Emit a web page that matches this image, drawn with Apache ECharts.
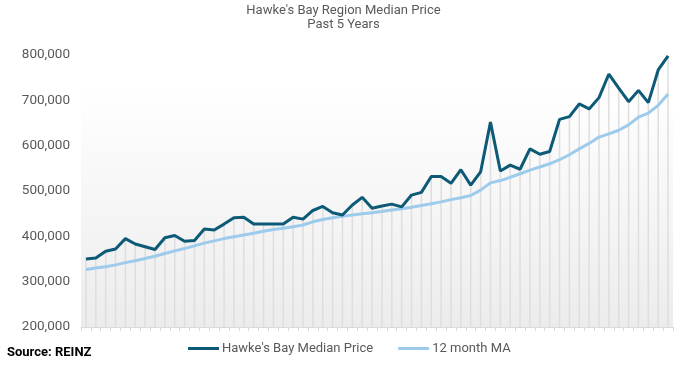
<!DOCTYPE html>
<html><head><meta charset="utf-8">
<script src="https://cdn.jsdelivr.net/npm/echarts@6/dist/echarts.min.js"></script>
<style>html,body{margin:0;padding:0;background:#fff}#c{width:687px;height:368px}</style>
</head><body><div id="c"></div>
<script>
// 60 monthly observations (dates not shown on the chart)
const categories = [];
for (let i = 1; i <= 60; i++) categories.push('M' + i);

const medianPrice = [350000,352000,367000,372000,395000,383000,377000,371000,397000,402000,
  389000,391000,416000,414000,427000,441000,442000,427000,427000,427000,
  427000,442000,438000,457000,466000,452000,447000,469000,486000,462000,
  467000,471000,465000,491000,497000,532000,532000,517000,547000,513000,
  542000,652000,544000,557000,548000,593000,581000,587000,658000,664000,
  692000,681000,706000,758000,727000,697000,722000,695000,767000,798000];

const movingAvg = [327000,330000,333000,337000,342000,346000,351000,356000,362000,368000,
  373000,379000,385000,390000,395000,399000,403000,407000,411000,415000,
  418000,421000,425000,432000,437000,441000,444000,447000,450000,452000,
  455000,458000,461000,464000,468000,472000,476000,481000,485000,490000,
  502000,518000,523000,530000,538000,546000,553000,560000,569000,580000,
  593000,605000,619000,626000,634000,646000,663000,672000,689000,714000];

const yTicks = [200000,300000,400000,500000,600000,700000,800000];
const seriesNames = ["Hawke's Bay Median Price", "12 month MA"];

const font = 'Roboto, "Liberation Sans", sans-serif';
const chart = echarts.init(document.getElementById('c'), null, {renderer:'canvas'});
chart.setOption({
  animation: false,
  backgroundColor: '#fff',
  title: {
    text: "Hawke's Bay Region Median Price\nPast 5 Years",
    left: 'center', top: 4, padding: 0,
    textStyle: {fontFamily: font, fontSize: 13, fontWeight: 'normal', color: '#595959', lineHeight: 14}
  },
  graphic: [{
    type: 'text', left: 7, top: 346,
    style: {text: 'Source: REINZ', font: 'bold 13px ' + font, fill: '#000'}
  }],
  legend: {
    data: seriesNames,
    left: 188, top: 342, padding: 0,
    itemWidth: 31, itemHeight: 3, itemGap: 25,
    icon: 'rect',
    textStyle: {fontFamily: font, fontSize: 13, color: '#595959', padding: [0,0,0,-2]}
  },
  grid: {
    left: 81, right: 14, top: 55, bottom: 41,
    show: true, borderWidth: 0,
    backgroundColor: new echarts.graphic.LinearGradient(0,0,0,1,[
      {offset:0, color:'#ffffff'},{offset:0.12, color:'#ffffff'},{offset:1, color:'#ececec'}])
  },
  xAxis: {
    type: 'category', data: categories, boundaryGap: true,
    axisLine: {show: true, lineStyle: {color: '#d9d9d9', width: 1}},
    axisTick: {show: true, interval: 0, length: 4, lineStyle: {color: '#d9d9d9'}},
    axisLabel: {show: false},
    splitLine: {show: false}
  },
  yAxis: {
    type: 'value', min: yTicks[0], max: yTicks[yTicks.length-1], interval: 100000,
    axisLine: {show: false}, axisTick: {show: false},
    splitLine: {show: false},
    axisLabel: {
      margin: 11, fontFamily: font, fontSize: 13.5, color: '#595959',
      formatter: v => v.toLocaleString('en-US')
    }
  },
  series: [
    {
      name: 'drop', type: 'bar', data: medianPrice, barWidth: 1.5,
      itemStyle: {color: '#dedede'}, silent: true, z: 1
    },
    {
      name: seriesNames[1], type: 'line', data: movingAvg, symbol: 'none',
      lineStyle: {color: '#9dcbeb', width: 3}, itemStyle: {color: '#9dcbeb'}, z: 3
    },
    {
      name: seriesNames[0], type: 'line', data: medianPrice, symbol: 'none',
      lineStyle: {color: '#0c5a76', width: 3}, itemStyle: {color: '#0c5a76'}, z: 4
    }
  ]
});
</script></body></html>
